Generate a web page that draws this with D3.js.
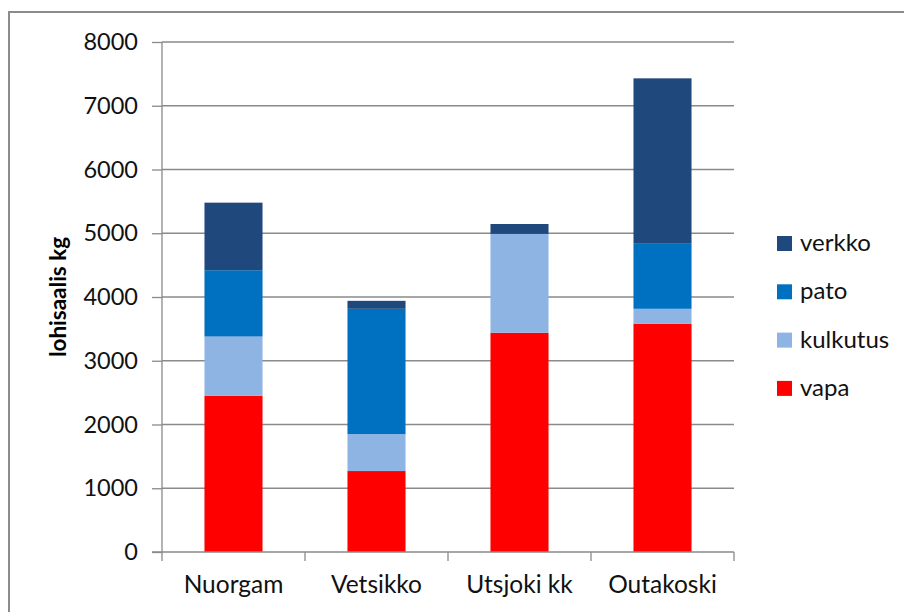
<!DOCTYPE html>
<html><head><meta charset="utf-8">
<script src="https://cdn.jsdelivr.net/npm/d3@7"></script>
<style>
html,body{margin:0;padding:0;background:#fff;}
svg{display:block;font-family:Lato,"Open Sans",sans-serif;}
</style></head>
<body>
<svg id="chart" width="904" height="612"></svg>
<script>
const categories = ["Nuorgam", "Vetsikko", "Utsjoki kk", "Outakoski"];
const seriesNames = ["vapa", "kulkutus", "pato", "verkko"];
const vapa     = [2450, 1270, 3440, 3580];
const kulkutus = [930, 580, 1550, 235];
const pato     = [1040, 1965, 0, 1030];
const verkko   = [1060, 125, 155, 2585];
const yTicks = [0, 1000, 2000, 3000, 4000, 5000, 6000, 7000, 8000];
const colors = {vapa:"#FF0000", kulkutus:"#8EB4E3", pato:"#0070C0", verkko:"#1F497D"};
const yLabel = "lohisaalis kg";

(function(){
const values = {vapa, kulkutus, pato, verkko};
const rows = categories.map((c,i)=>{const r={cat:c}; seriesNames.forEach(s=>r[s]=values[s][i]); return r;});
const stacked = d3.stack().keys(seriesNames)(rows);

const svg = d3.select("#chart");
const pLeft=162, pRight=734, pTop=42, pBottom=552;
const txt = "#111";

// outer frame
svg.append("path").attr("d","M9,612 L9,12 L904,12").attr("fill","none").attr("stroke","#8c8c8c").attr("stroke-width",2);

const x = d3.scaleBand().domain(categories).range([pLeft,pRight]).paddingInner(0.594).paddingOuter(0.297);
const y = d3.scaleLinear().domain([0,8000]).range([pBottom,pTop]);

// gridlines
svg.append("g").selectAll("line").data(yTicks.filter(t=>t>0)).join("line")
  .attr("x1",pLeft).attr("x2",pRight).attr("y1",d=>y(d)).attr("y2",d=>y(d))
  .attr("stroke","#8a8a8a").attr("stroke-width",1.3);

// bars
svg.append("g").selectAll("g").data(stacked).join("g")
  .attr("fill",d=>colors[d.key])
  .selectAll("rect").data(d=>d).join("rect")
  .attr("x",d=>x(d.data.cat)).attr("width",x.bandwidth())
  .attr("y",d=>y(d[1])).attr("height",d=>y(d[0])-y(d[1]));

// y axis
const yAxis = svg.append("g").attr("transform",`translate(${pLeft},0)`)
  .call(d3.axisLeft(y).tickValues(yTicks).tickSize(10).tickPadding(14).tickFormat(d3.format("d")));
yAxis.select(".domain").attr("stroke","#8a8a8a").attr("stroke-width",1.3).attr("d",`M0,${pTop}V${pBottom}`);
yAxis.selectAll(".tick line").attr("stroke","#8a8a8a").attr("stroke-width",1.3);
yAxis.selectAll(".tick text").attr("font-size",23.5).attr("fill",txt).attr("font-family","Lato,sans-serif");

// x axis
const xAxis = svg.append("g").attr("transform",`translate(0,${pBottom})`);
xAxis.append("line").attr("x1",pLeft-10).attr("x2",pRight).attr("y1",0).attr("y2",0).attr("stroke","#8a8a8a").attr("stroke-width",1.3);
const bounds = [pLeft, ...categories.map(c=>x(c)+x.bandwidth()+x.step()*x.paddingInner()/2)];
bounds[bounds.length-1]=pRight;
xAxis.selectAll("line.t").data(bounds).join("line").attr("class","t")
  .attr("x1",d=>d).attr("x2",d=>d).attr("y1",0).attr("y2",9).attr("stroke","#8a8a8a").attr("stroke-width",1.3);
xAxis.selectAll("text").data(categories).join("text")
  .attr("x",d=>x(d)+x.bandwidth()/2).attr("y",41).attr("text-anchor","middle")
  .attr("font-size",24.5).attr("fill",txt).text(d=>d);

// y label
svg.append("text").attr("transform","translate(66,297) rotate(-90)").attr("text-anchor","middle")
  .attr("font-size",22.5).attr("font-weight","bold").attr("fill","#000").text(yLabel);

// legend
const legendOrder = ["verkko","pato","kulkutus","vapa"];
const lg = svg.append("g");
legendOrder.forEach((k,i)=>{
  const yy = 243 + i*48.3;
  lg.append("rect").attr("x",777).attr("y",yy-7).attr("width",15).attr("height",15).attr("fill",colors[k]);
  lg.append("text").attr("x",800).attr("y",yy+8).attr("font-size",24).attr("fill",txt).text(k);
});
})();
</script>
</body></html>
